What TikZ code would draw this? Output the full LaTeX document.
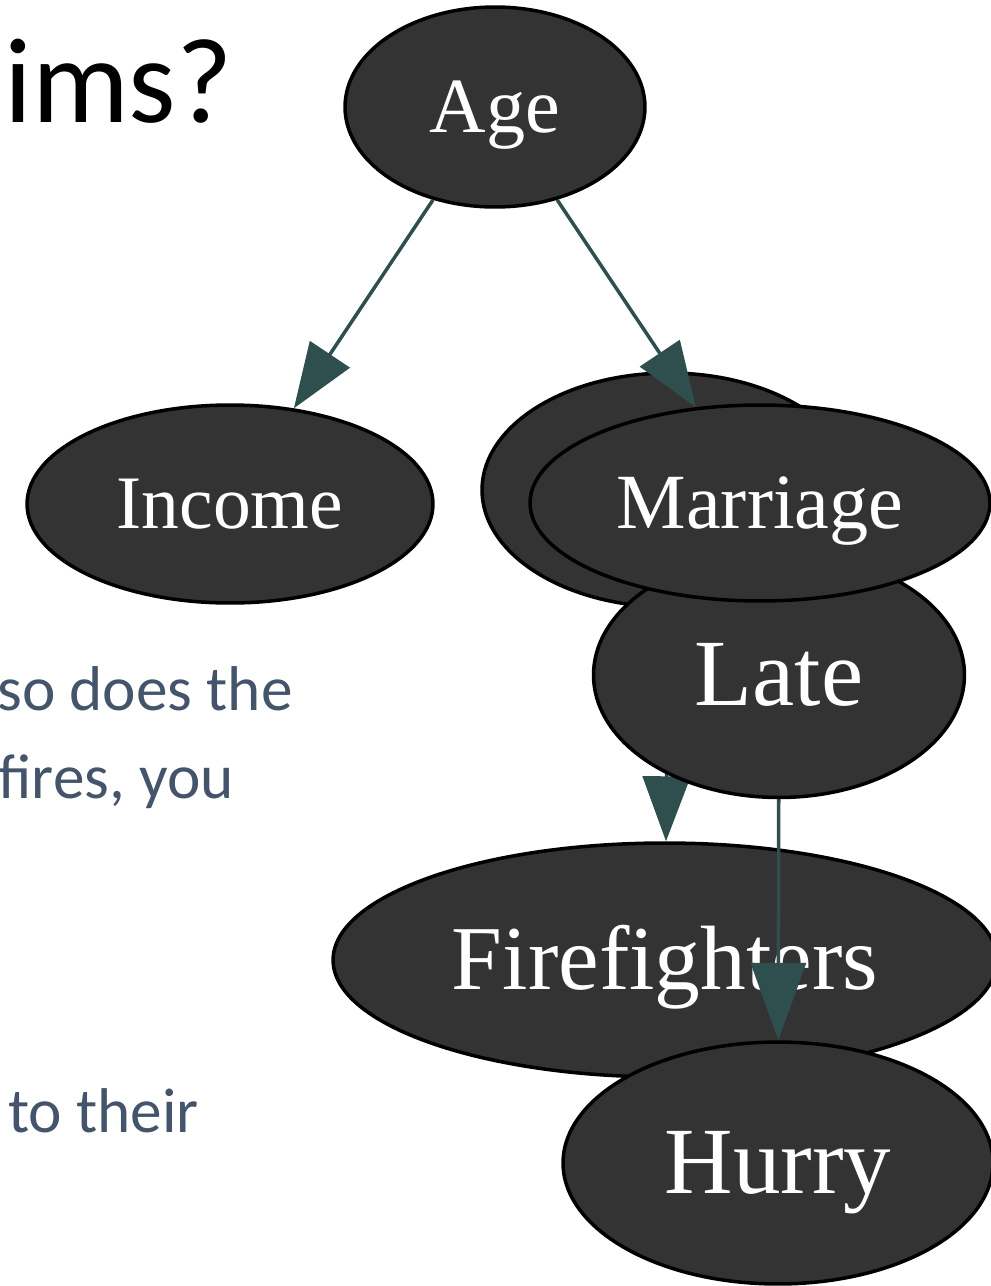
\documentclass[tikz,border=0pt]{standalone}
\usepackage{fontspec}
\usepackage{xcolor}
\usepackage{tikz}
\usetikzlibrary{arrows.meta,shapes.geometric}
\newfontfamily\slidefont{Carlito}
\newfontfamily\gvfont{Liberation Serif}
\definecolor{nodegray}{HTML}{333333}
\definecolor{edgeslate}{HTML}{2F4F4F}
\definecolor{bodyblue}{HTML}{44546A}
\pgfdeclarelayer{front}
\pgfsetlayers{main,front}

\begin{document}
\begin{tikzpicture}[
    x=0.02cm, y=-0.02cm,
    gv/.style={ellipse, draw=black, fill=nodegray, line width=2pt, inner sep=0pt, text=white},
    gvtext/.style={font=\gvfont\fontsize{#1}{#1}\selectfont, text height=0.64*#1pt, text depth=0pt},
    title/.style={anchor=base west, inner sep=0pt, font=\slidefont\fontsize{69}{80}\selectfont},
    body/.style={anchor=base west, inner sep=0pt, text=bodyblue, font=\slidefont\fontsize{36}{42}\selectfont},
    arr/.style={-{Triangle[length=1.3cm, width=0.95cm]}, line width=2pt, draw=edgeslate},
    bigarr/.style={arr, -{Triangle[length=1.55cm, width=1.1cm]}}
  ]
  \clip (0,0) rectangle (991,1286);

  % slide text behind the graph
  \node[title] (ttl) at (4,122) {ims?};
  \node[body] (l1) at (-3,710) {so does the};
  \node[body] (l2) at (-2,798) {fires, you};
  \node[body] (l3) at (8,1132) {to their};

  \node[gv, minimum width=7.48cm, minimum height=4.68cm] (mar0) at (669,490) {};
  \node[gv, gvtext=52, minimum width=13.28cm, minimum height=4.68cm] (fire) at (665,960) {Firefighters};
  \node[gv, gvtext=54, minimum width=8.6cm, minimum height=4.84cm] (hurry) at (778,1163) {Hurry};
  \node[gv, gvtext=43, minimum width=8.12cm, minimum height=3.96cm] (inc) at (230,504) {Income};
  \node[gv, gvtext=44.5, minimum width=6cm, minimum height=4cm] (age) at (495,107) {Age};

  \begin{pgfonlayer}{front}
    \node[gv, gvtext=54, minimum width=7.42cm, minimum height=4.9cm] (late) at (779,675) {Late};
    \node[gv, gvtext=44.5, minimum width=9.2cm, minimum height=3.92cm] (mar) at (760,503) {Marriage};
  \end{pgfonlayer}

  \draw[arr] (age) -- (inc);
  \draw[arr] (age) -- (mar);
  \draw[arr] (mar0) -- (fire);
  \draw[bigarr] (late) -- (hurry);
\end{tikzpicture}
\end{document}
